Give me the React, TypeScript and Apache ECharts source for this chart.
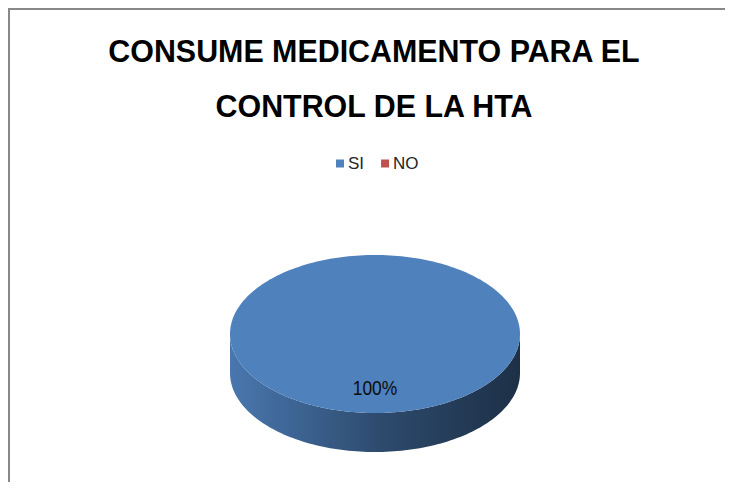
import React, { useEffect, useRef } from "react";
import * as echarts from "echarts";

const titleLines = ["CONSUME MEDICAMENTO PARA EL", "CONTROL DE LA HTA"];
const categories = ["SI", "NO"];
const values = [100, 0];
const colors = ["#4F81BD", "#C0504D"];

const W = 715;
const H = 472;

function shade(hex: string, k: number) {
  const h = hex.replace("#", "");
  const r = Math.round(parseInt(h.slice(0, 2), 16) * k);
  const g = Math.round(parseInt(h.slice(2, 4), 16) * k);
  const b = Math.round(parseInt(h.slice(4, 6), 16) * k);
  return `rgb(${r},${g},${b})`;
}

export default function App() {
  const ref = useRef<HTMLDivElement>(null);

  useEffect(() => {
    const el = ref.current as HTMLDivElement;
    const chart = echarts.init(el, null, { renderer: "svg" });
    const total = values.reduce((a, b) => a + b, 0);
    const cx = 365;
    const cy = 324;
    const rx = 145;
    const ry = 79;
    const depth = 39;
    const pt = (t: number, dy = 0) => [cx + rx * Math.sin(t), cy - ry * Math.cos(t) + dy];
    const arcPts = (a: number, b: number, dy = 0) => {
      const n = Math.max(2, Math.ceil(Math.abs(b - a) / (Math.PI / 120)));
      const out: number[][] = [];
      for (let i = 0; i <= n; i++) out.push(pt(a + ((b - a) * i) / n, dy));
      return out;
    };
    const font = "'Liberation Sans', Arial, sans-serif";

    const series = categories.map((name, i) => ({
      type: "custom",
      name,
      coordinateSystem: "none",
      data: [values[i]],
      itemStyle: { color: colors[i] },
      renderItem: () => {
        const v = values[i];
        if (!v || !total) return null;
        const before = values.slice(0, i).reduce((a, b) => a + b, 0);
        const a0 = (before / total) * 2 * Math.PI;
        const a1 = ((before + v) / total) * 2 * Math.PI;
        const base = colors[i];
        const children: any[] = [];
        const lo = Math.max(a0, Math.PI / 2);
        const hi = Math.min(a1, (3 * Math.PI) / 2);
        if (hi > lo) {
          const top = arcPts(lo, hi, 0);
          const bottom = arcPts(hi, lo, depth);
          children.push({
            type: "polygon",
            z2: 1,
            shape: { points: top.concat(bottom) },
            style: {
              fill: {
                type: "linear",
                x: cx - rx,
                y: 0,
                x2: cx + rx,
                y2: 0,
                global: true,
                colorStops: [
                  { offset: 0, color: shade(base, 0.92) },
                  { offset: 0.25, color: shade(base, 0.76) },
                  { offset: 0.55, color: shade(base, 0.56) },
                  { offset: 1, color: shade(base, 0.37) },
                ],
              },
            },
          });
        }
        const full = v >= total;
        const facePts = full ? arcPts(0, 2 * Math.PI) : [[cx, cy]].concat(arcPts(a0, a1));
        children.push({
          type: "polygon",
          z2: 2,
          shape: { points: facePts },
          style: { fill: base },
        });
        const mid = (a0 + a1) / 2;
        const f = 0.68;
        children.push({
          type: "text",
          z2: 3,
          x: cx + f * rx * Math.sin(mid),
          y: cy - f * ry * Math.cos(mid),
          scaleX: 0.87,
          style: {
            text: Math.round((v / total) * 100) + "%",
            fontFamily: font,
            fontSize: 20,
            fill: "#0d0d0d",
            align: "center",
            verticalAlign: "middle",
          },
        });
        return { type: "group", children };
      },
    }));

    chart.setOption({
      animation: false,
      backgroundColor: "#ffffff",
      legend: {
        data: categories,
        left: 326,
        top: 145,
        padding: 0,
        icon: "rect",
        itemWidth: 8,
        itemHeight: 8,
        itemGap: 17,
        textStyle: { fontFamily: font, fontSize: 17, color: "#262626", padding: [0, 0, 0, -1] },
        selectedMode: false,
      },
      graphic: titleLines.map((t, k) => ({
        type: "text",
        x: 364,
        y: 41 + k * 55,
        scaleX: 0.95,
        style: {
          text: t,
          fontFamily: font,
          fontWeight: "bold",
          fontSize: 32,
          fill: "#000000",
          align: "center",
          verticalAlign: "middle",
        },
      })),
      series,
    });

    return () => chart.dispose();
  }, []);

  return (
    <div
      style={{
        width: W + 2,
        height: H + 2,
        borderTop: "2px solid #888888",
        borderLeft: "2px solid #888888",
        boxSizing: "border-box",
        overflow: "hidden",
      }}
    >
      <div ref={ref} style={{ width: W, height: H }} />
    </div>
  );
}
